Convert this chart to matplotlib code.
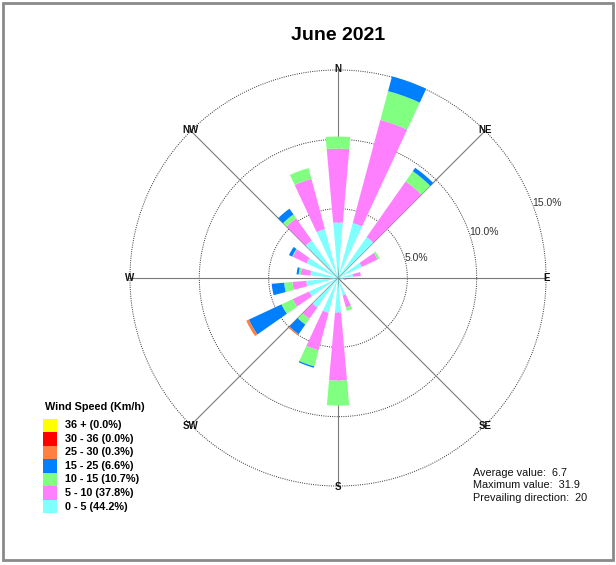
import numpy as np
import matplotlib
matplotlib.use("Agg")
import matplotlib.pyplot as plt
from matplotlib.patches import Rectangle

plt.rcParams['font.family'] = ['Liberation Sans', 'DejaVu Sans']

# ---------------- data ----------------
directions = [0, 20, 40, 60, 80, 100, 120, 140, 160, 180, 200, 220, 240, 260, 280, 300, 320, 340]
speed_0_5   = [4.0, 4.1, 3.6, 1.9, 1.1, 0.4, 0.0, 0.0, 1.3, 2.5, 2.6, 2.6, 2.3, 2.3, 2.0, 2.5, 3.3, 3.65]
speed_5_10  = [5.33, 7.7, 4.9, 1.25, 0.55, 0.2, 0.0, 0.0, 0.9, 4.9, 2.8, 1.0, 1.3, 1.0, 0.7, 1.1, 1.95, 3.75]
speed_10_15 = [0.87, 2.15, 0.9, 0.15, 0.0, 0.0, 0.0, 0.0, 0.25, 1.8, 1.2, 0.5, 0.9, 0.6, 0.15, 0.05, 0.35, 0.8]
speed_15_25 = [0.0, 1.1, 0.3, 0.0, 0.0, 0.0, 0.0, 0.0, 0.0, 0.0, 0.1, 0.85, 2.6, 0.9, 0.15, 0.25, 0.5, 0.0]
speed_25_30 = [0.0, 0.0, 0.0, 0.0, 0.0, 0.0, 0.0, 0.0, 0.0, 0.0, 0.0, 0.1, 0.2, 0.0, 0.0, 0.0, 0.0, 0.0]
speed_30_36 = [0.0] * 18
speed_36p   = [0.0] * 18

series = [speed_0_5, speed_5_10, speed_10_15, speed_15_25, speed_25_30, speed_30_36, speed_36p]
series_colors = ['#80FFFF', '#FF80FF', '#80FF80', '#0080FF', '#FF8040', '#FF0000', '#FFFF00']

legend_labels = ['36 + (0.0%)', '30 - 36 (0.0%)', '25 - 30 (0.3%)', '15 - 25 (6.6%)',
                 '10 - 15 (10.7%)', '5 - 10 (37.8%)', '0 - 5 (44.2%)']
legend_colors = ['#FFFF00', '#FF0000', '#FF8040', '#0080FF', '#80FF80', '#FF80FF', '#80FFFF']

ring_values = [5, 10, 15]
ring_labels = ['5.0%', '10.0%', '15.0%']
compass = ['N', 'NE', 'E', 'SE', 'S', 'SW', 'W', 'NW']
stats = ['Average value:  6.7', 'Maximum value:  31.9', 'Prevailing direction:  20']

# ---------------- figure ----------------
W, H = 616, 565
fig = plt.figure(figsize=(W / 100, H / 100), dpi=100)

def fx(x):
    return x / W

def fy(y):
    return 1 - y / H

cx, cy = 338, 278
px_per_pct = 13.87
rmax = 16.0
R = rmax * px_per_pct
ax = fig.add_axes([fx(cx - R), fy(cy + R), 2 * R / W, 2 * R / H], projection='polar')
ax.set_theta_zero_location('N')
ax.set_theta_direction(-1)
ax.set_ylim(0, rmax)
ax.set_axis_off()

# rings
th = np.linspace(0, 2 * np.pi, 721)
for rv in ring_values:
    ax.plot(th, np.full_like(th, rv), linestyle=(0, (1, 1.3)), color='#333333', lw=0.7, zorder=1)

# radial lines
for i in range(8):
    a = np.deg2rad(i * 45)
    ax.plot([a, a], [0, 15], color='#7a7a7a', lw=0.8, zorder=1)

# compass labels
for i, lab in enumerate(compass):
    a = np.deg2rad(i * 45)
    ax.text(a, 15.05, lab, ha='center', va='center', fontsize=7, fontweight='bold',
            color='#111111', zorder=3)

# ring labels
ring_angles = [73, 70.5, 69]
for rv, lab, ang in zip(ring_values, ring_labels, ring_angles):
    ax.text(np.deg2rad(ang), rv, lab, ha='left', va='center', fontsize=7.5, color='#333333', zorder=3)

# bars
theta = np.deg2rad(directions)
width = np.deg2rad(10)
bottom = np.zeros(len(directions))
for vals, col in zip(series, series_colors):
    v = np.array(vals)
    ax.bar(theta, v, width=width, bottom=bottom, color=col, edgecolor='none', zorder=2)
    bottom = bottom + v

# title
fig.text(fx(338), fy(35), 'June 2021', ha='center', va='center', fontsize=14, fontweight='bold')

# legend
fig.text(fx(45), fy(407), 'Wind Speed (Km/h)', ha='left', va='center', fontsize=7.8, fontweight='bold')
y0, step = 425.3, 13.55
for i, (lab, col) in enumerate(zip(legend_labels, legend_colors)):
    yc = y0 + i * step
    fig.patches.append(Rectangle((fx(43), fy(yc + step / 2)), 13.5 / W, step / H,
                                 transform=fig.transFigure, facecolor=col, edgecolor='none'))
    fig.text(fx(65), fy(yc), lab, ha='left', va='center', fontsize=7.8, fontweight='bold')

# stats
for i, s in enumerate(stats):
    fig.text(fx(473), fy(473 + i * 12.3), s, ha='left', va='center', fontsize=7.8, color='#111111')

# border
fig.patches.append(Rectangle((fx(3), fy(560)), (613 - 3) / W, (560 - 3) / H,
                             transform=fig.transFigure, facecolor='none', edgecolor='#8a8a8a', lw=2))

fig.savefig('out.png', dpi=100)
